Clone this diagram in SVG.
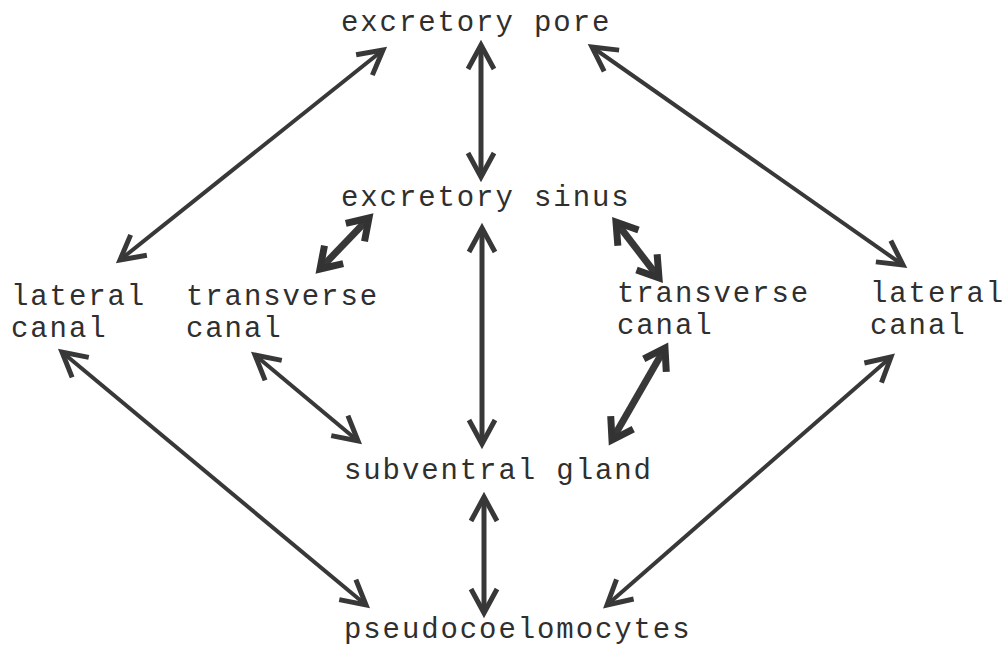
<svg xmlns="http://www.w3.org/2000/svg" width="1006" height="654" viewBox="0 0 1006 654">
  <defs>
    <style>
      .lbl { font-family: "Liberation Mono", "Courier New", monospace; font-size: 29px; letter-spacing: 1.9px; fill: #2f2f2f; }
      .ln { stroke: #383838; fill: none; stroke-linecap: butt; }
      .thin { stroke-width: 4; marker-start: url(#hd); marker-end: url(#hd); }
      .mid { stroke-width: 5; marker-start: url(#hd); marker-end: url(#hd); }
      .thick { stroke-width: 7; marker-start: url(#hdk); marker-end: url(#hdk); }
    </style>
    <!-- open chevron head, drawn at the line tip -->
    <marker id="hd" markerUnits="userSpaceOnUse" markerWidth="60" markerHeight="60" refX="0" refY="0" viewBox="-30 -30 60 60" orient="auto-start-reverse" overflow="visible">
      <path d="M-24,-13 L0,0 L-24,13" fill="none" stroke="#383838" stroke-width="5" stroke-linejoin="miter"/>
    </marker>
    <marker id="hdk" markerUnits="userSpaceOnUse" markerWidth="60" markerHeight="60" refX="0" refY="0" viewBox="-30 -30 60 60" orient="auto-start-reverse" overflow="visible">
      <path d="M-20,-13 L0,0 L-20,13" fill="none" stroke="#333333" stroke-width="7" stroke-linejoin="miter"/>
    </marker>
  </defs>
  <rect width="1006" height="654" fill="#ffffff"/>

  <g id="connectors">
    <line class="ln thin" x1="383" y1="50" x2="120" y2="260"/>
    <line class="ln thin" x1="592" y1="47" x2="903" y2="265"/>
    <line class="ln mid" x1="481" y1="45" x2="481" y2="177"/>
    <line class="ln thick" x1="369" y1="218" x2="320" y2="269"/>
    <line class="ln thick" x1="616" y1="222" x2="659" y2="278"/>
    <line class="ln mid" x1="482" y1="228" x2="482" y2="444"/>
    <line class="ln thin" x1="62" y1="352" x2="366" y2="605"/>
    <line class="ln thin" x1="255" y1="355" x2="358" y2="441"/>
    <line class="ln thick" x1="665" y1="348" x2="612" y2="440"/>
    <line class="ln thin" x1="891" y1="357" x2="607" y2="605"/>
    <line class="ln mid" x1="484" y1="497" x2="484" y2="613"/>
  </g>

  <g id="excretory-pore"><text class="lbl" x="341" y="31">excretory pore</text></g>
  <g id="excretory-sinus"><text class="lbl" x="341" y="206">excretory sinus</text></g>
  <g id="lateral-canal-left"><text class="lbl" x="11" y="305">lateral</text><text class="lbl" x="11" y="337">canal</text></g>
  <g id="transverse-canal-left"><text class="lbl" x="186" y="305">transverse</text><text class="lbl" x="186" y="337">canal</text></g>
  <g id="transverse-canal-right"><text class="lbl" x="617" y="302">transverse</text><text class="lbl" x="617" y="334">canal</text></g>
  <g id="lateral-canal-right"><text class="lbl" x="870" y="302">lateral</text><text class="lbl" x="870" y="334">canal</text></g>
  <g id="subventral-gland"><text class="lbl" x="344" y="479">subventral gland</text></g>
  <g id="pseudocoelomocytes"><text class="lbl" x="344" y="638">pseudocoelomocytes</text></g>
</svg>
